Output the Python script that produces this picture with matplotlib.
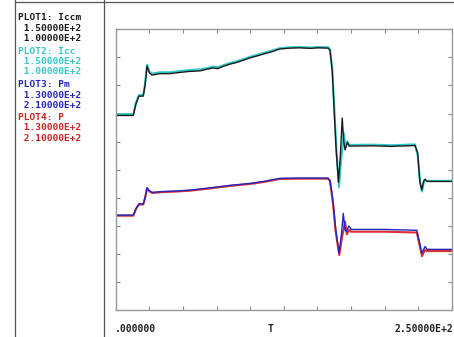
import matplotlib
matplotlib.use('Agg')
from matplotlib import pyplot as plt
from matplotlib.lines import Line2D

# time axis (T) and the four traces, y in screen divisions (0..10)
t_iccm = [0, 13.1, 15.1, 17.3, 20.5, 21.8, 23.3, 25.0, 27.0, 32.9, 40, 47, 55, 62.7, 68, 72, 76, 80, 85, 90, 95,
          99.8, 105, 110, 116, 122.1, 130, 136.9, 145, 150, 157.8, 159.3, 161.0, 162.5, 164.0, 165.6, 167.0,
          168.4, 169.5, 170.5, 172.3, 173.5, 190, 205, 222.5, 224.5, 226.0, 227.5, 229.0, 229.9, 231.5, 250]
iccm = [6.93, 6.93, 7.35, 7.62, 7.62, 8.0, 8.69, 8.45, 8.37, 8.42, 8.42, 8.46, 8.50, 8.52, 8.58, 8.62, 8.60,
        8.68, 8.76, 8.82, 8.90, 8.98, 9.05, 9.12, 9.20, 9.30, 9.33, 9.34, 9.32, 9.34, 9.33, 9.25, 8.5, 7.0,
        5.6, 4.55, 5.5, 6.84, 6.0, 5.7, 5.98, 5.84, 5.85, 5.83, 5.86, 5.6, 4.6, 4.28, 4.6, 4.66, 4.58, 4.58]

t_icc = [0, 13.1, 15.1, 17.3, 20.5, 21.8, 23.3, 25.0, 27.0, 32.9, 40, 47, 55, 62.7, 68, 72, 76, 80, 85, 90, 95,
         99.8, 105, 110, 116, 122.1, 130, 136.9, 145, 150, 157.8, 159.3, 161.0, 162.5, 164.0, 166.0, 167.5,
         169.7, 170.7, 172.3, 173.5, 190, 205, 222.5, 224.5, 226.5, 227.7, 229.3, 230.0, 231.5, 250]
icc = [6.98, 6.98, 7.40, 7.66, 7.66, 8.05, 8.74, 8.50, 8.42, 8.47, 8.47, 8.51, 8.55, 8.57, 8.62, 8.67, 8.65,
       8.72, 8.80, 8.86, 8.94, 9.02, 9.09, 9.16, 9.24, 9.33, 9.36, 9.37, 9.35, 9.37, 9.36, 9.3, 8.6, 7.2,
       5.8, 4.37, 5.3, 6.3, 5.8, 6.0, 5.88, 5.89, 5.87, 5.90, 5.5, 4.5, 4.22, 4.6, 4.64, 4.60, 4.60]

t_pm = [0, 13.1, 15.1, 17.3, 20.5, 21.8, 23.3, 25.0, 27.0, 35, 45, 55, 62.7, 75, 85, 99.8, 110, 122.1, 137,
        157.8, 159.3, 161.5, 163.5, 166.0, 167.8, 169.2, 170.5, 171.5, 173.3, 175.0, 200, 223.8, 225.5,
        227.5, 229.9, 231.5, 250]
pm = [3.38, 3.38, 3.62, 3.78, 3.78, 4.0, 4.36, 4.25, 4.19, 4.22, 4.24, 4.27, 4.31, 4.38, 4.44, 4.51, 4.58,
      4.69, 4.70, 4.70, 4.62, 3.9, 2.9, 2.02, 2.7, 3.44, 2.85, 2.80, 2.99, 2.87, 2.87, 2.84, 2.5, 2.02,
      2.26, 2.16, 2.16]

t_p = [0, 13.1, 15.1, 17.3, 20.5, 21.8, 23.3, 25.0, 27.0, 35, 45, 55, 62.7, 75, 85, 99.8, 110, 122.1, 137,
       157.8, 159.3, 161.5, 163.5, 166.2, 168.3, 170.5, 171.8, 173.5, 175.0, 200, 223.8, 225.5, 227.7,
       229.9, 231.5, 250]
p = [3.36, 3.36, 3.60, 3.76, 3.76, 3.98, 4.33, 4.23, 4.17, 4.20, 4.22, 4.25, 4.29, 4.36, 4.42, 4.49, 4.56,
     4.67, 4.68, 4.68, 4.60, 3.8, 2.8, 1.96, 2.6, 3.15, 2.70, 2.85, 2.79, 2.79, 2.76, 2.4, 1.92,
     2.14, 2.10, 2.10]

legend_lines = [('PLOT1: Iccm', '#1a1a1a'), (' 1.50000E+2', '#1a1a1a'), (' 1.00000E+2', '#1a1a1a'),
                ('PLOT2: Icc', '#35c8c8'), (' 1.50000E+2', '#35c8c8'), (' 1.00000E+2', '#35c8c8'),
                ('PLOT3: Pm', '#2424c0'), (' 1.30000E+2', '#2424c0'), (' 2.10000E+2', '#2424c0'),
                ('PLOT4: P', '#cc2222'), (' 1.30000E+2', '#cc2222'), (' 2.10000E+2', '#cc2222')]
legend_y = [17, 28.7, 38.7, 51.7, 62, 72, 84.7, 95, 105.7, 118, 128, 139]

W, H = 454, 337
fig = plt.figure(figsize=(W / 100, H / 100), dpi=100)

# frame of the scope screen
frame = '#555555'
fig.add_artist(Line2D([14.5 / W, 14.5 / W], [0, 1], color=frame, lw=0.9))
fig.add_artist(Line2D([104 / W, 104 / W], [0, 1], color=frame, lw=0.9))
fig.add_artist(Line2D([14.5 / W, 1], [1 - 1.5 / H, 1 - 1.5 / H], color=frame, lw=0.9))

ax = fig.add_axes([115.7 / W, 27 / H, 336.3 / W, 280.7 / H])
ax.plot(t_icc, icc, color='#35c8c8', lw=1.5)
ax.plot(t_iccm, iccm, color='#1a1a1a', lw=1.0)
ax.plot(t_p, p, color='#d83030', lw=1.5)
ax.plot(t_pm, pm, color='#2424c0', lw=1.0)

ax.set_xlim(0, 250)
ax.set_ylim(0, 10)
ax.set_xticks(range(0, 251, 25))
ax.set_yticks(range(0, 11))
ax.tick_params(direction='in', length=3, width=0.8, color='#888888',
               top=True, right=True, labelbottom=False, labelleft=False)
for s in ax.spines.values():
    s.set_color('#999999')
    s.set_linewidth(1.0)

mono = dict(family='DejaVu Sans Mono', weight='bold')
for (txt, col), yy in zip(legend_lines, legend_y):
    fig.text(18 / W, 1 - yy / H, txt, color=col, fontsize=6.8, va='center', ha='left', **mono)

fig.text(115 / W, 1 - 329 / H, '.000000', fontsize=7, va='center', ha='left', color='#222222', **mono)
fig.text(271 / W, 1 - 329 / H, 'T', fontsize=7, va='center', ha='center', color='#222222', **mono)
fig.text(453 / W, 1 - 329 / H, '2.50000E+2', fontsize=7, va='center', ha='right', color='#222222', **mono)

fig.savefig('out.png', dpi=100)
